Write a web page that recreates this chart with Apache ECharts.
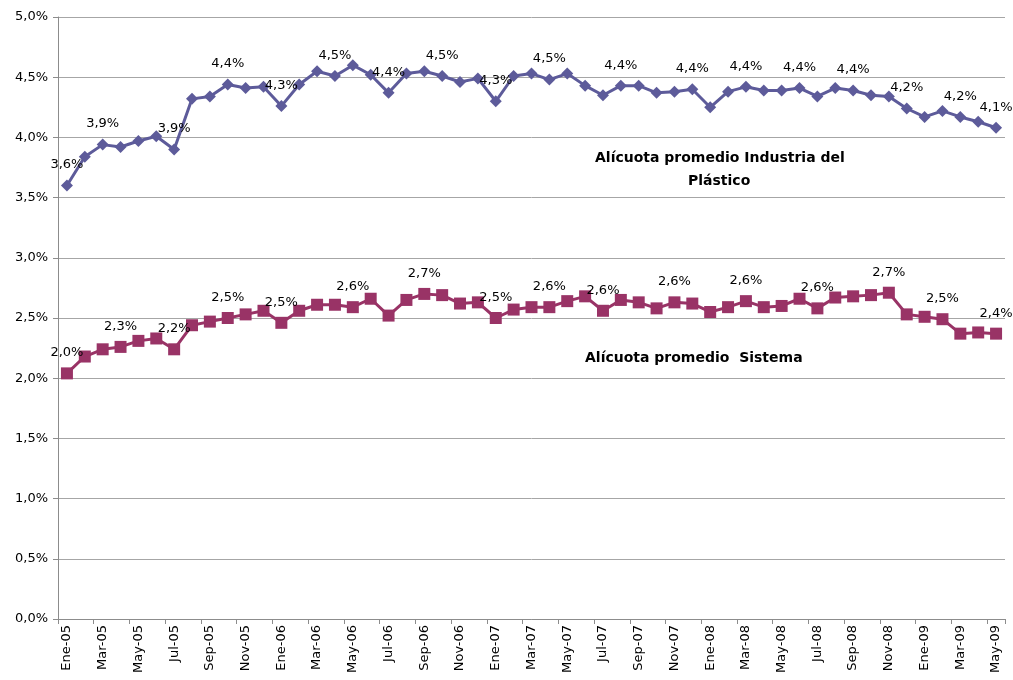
<!DOCTYPE html>
<html>
<head>
<meta charset="utf-8">
<script src="https://cdn.jsdelivr.net/npm/echarts@6/dist/echarts.min.js"></script>
<style>html,body{margin:0;padding:0;background:#fff}#c{width:1013px;height:680px}</style>
</head>
<body>
<div id="c"></div>
<script>
var categories = ['Ene-05','Feb-05','Mar-05','Abr-05','May-05','Jun-05','Jul-05','Ago-05','Sep-05','Oct-05','Nov-05','Dic-05',
 'Ene-06','Feb-06','Mar-06','Abr-06','May-06','Jun-06','Jul-06','Ago-06','Sep-06','Oct-06','Nov-06','Dic-06',
 'Ene-07','Feb-07','Mar-07','Abr-07','May-07','Jun-07','Jul-07','Ago-07','Sep-07','Oct-07','Nov-07','Dic-07',
 'Ene-08','Feb-08','Mar-08','Abr-08','May-08','Jun-08','Jul-08','Ago-08','Sep-08','Oct-08','Nov-08','Dic-08',
 'Ene-09','Feb-09','Mar-09','Abr-09','May-09'];
var plastico = [3.60,3.84,3.94,3.92,3.97,4.01,3.90,4.32,4.34,4.44,4.41,4.42,
 4.26,4.44,4.55,4.51,4.60,4.52,4.37,4.53,4.55,4.51,4.46,4.49,
 4.30,4.51,4.53,4.48,4.53,4.43,4.35,4.43,4.43,4.37,4.38,4.40,
 4.25,4.38,4.42,4.39,4.39,4.41,4.34,4.41,4.39,4.35,4.34,4.24,
 4.17,4.22,4.17,4.13,4.08];
var sistema = [2.04,2.18,2.24,2.26,2.31,2.33,2.24,2.44,2.47,2.50,2.53,2.56,
 2.46,2.56,2.61,2.61,2.59,2.66,2.52,2.65,2.70,2.69,2.62,2.63,
 2.50,2.57,2.59,2.59,2.64,2.68,2.56,2.65,2.63,2.58,2.63,2.62,
 2.55,2.59,2.64,2.59,2.60,2.66,2.58,2.67,2.68,2.69,2.71,2.53,
 2.51,2.49,2.37,2.38,2.37];
var plasticoLabelIdx = [0,2,6,9,12,15,18,21,24,27,31,35,38,41,44,47,50,52];
var sistemaLabelIdx = [0,3,6,9,12,16,20,24,27,30,34,38,42,46,49,52];
var seriesNames = ['Alícuota promedio Industria del Plástico','Alícuota promedio  Sistema'];

function fmt(v){ return v.toFixed(1).replace('.', ',') + '%'; }
function build(vals, idx){
  return vals.map(function(v,i){
    return {value: v, label: {show: idx.indexOf(i) >= 0}};
  });
}
var FONT = 'DejaVu Sans';
var chart = echarts.init(document.getElementById('c'));
chart.setOption({
  animation: false,
  backgroundColor: '#ffffff',
  grid: {left: 58, right: 8, top: 17, bottom: 61},
  xAxis: {
    type: 'category',
    data: categories,
    boundaryGap: true,
    axisLine: {lineStyle: {color: '#8c8c8c', width: 1}},
    axisTick: {show: true, interval: 1, length: 5, lineStyle: {color: '#8c8c8c'}},
    axisLabel: {interval: 1, rotate: 90, color: '#000', fontFamily: FONT, fontSize: 13, margin: 6},
    splitLine: {show: false}
  },
  yAxis: {
    type: 'value',
    min: 0, max: 5, interval: 0.5,
    axisLine: {show: true, lineStyle: {color: '#8c8c8c', width: 1}},
    axisTick: {show: true, length: 5, lineStyle: {color: '#8c8c8c'}},
    axisLabel: {color: '#000', fontFamily: FONT, fontSize: 13, margin: 10,
      formatter: function(v){ return fmt(v); }},
    splitLine: {show: true, lineStyle: {color: '#a6a6a6', width: 1}}
  },
  series: [
    {
      name: seriesNames[0], type: 'line',
      data: build(plastico, plasticoLabelIdx),
      symbol: 'diamond', symbolSize: 12, showSymbol: true, showAllSymbol: true,
      lineStyle: {color: '#5d5b9a', width: 3},
      itemStyle: {color: '#5d5b9a'},
      labelLayout: {hideOverlap: false},
      label: {position: 'top', distance: 8, color: '#000', fontFamily: FONT, fontSize: 13,
        formatter: function(p){ return fmt(p.value); }}
    },
    {
      name: seriesNames[1], type: 'line',
      data: build(sistema, sistemaLabelIdx),
      symbol: 'rect', symbolSize: 12, showSymbol: true, showAllSymbol: true,
      lineStyle: {color: '#993366', width: 3},
      itemStyle: {color: '#993366'},
      labelLayout: {hideOverlap: false},
      label: {position: 'top', distance: 8, color: '#000', fontFamily: FONT, fontSize: 13,
        formatter: function(p){ return fmt(p.value); }}
    }
  ],
  graphic: [
    {type: 'text', left: 595, top: 151, style: {text: 'Alícuota promedio Industria del', fontFamily: FONT, fontSize: 14, fontWeight: 'bold', fill: '#000'}},
    {type: 'text', left: 688, top: 174, style: {text: 'Plástico', fontFamily: FONT, fontSize: 14, fontWeight: 'bold', fill: '#000'}},
    {type: 'text', left: 585, top: 351, style: {text: 'Alícuota promedio  Sistema', fontFamily: FONT, fontSize: 14, fontWeight: 'bold', fill: '#000'}}
  ]
});
</script>
</body>
</html>
